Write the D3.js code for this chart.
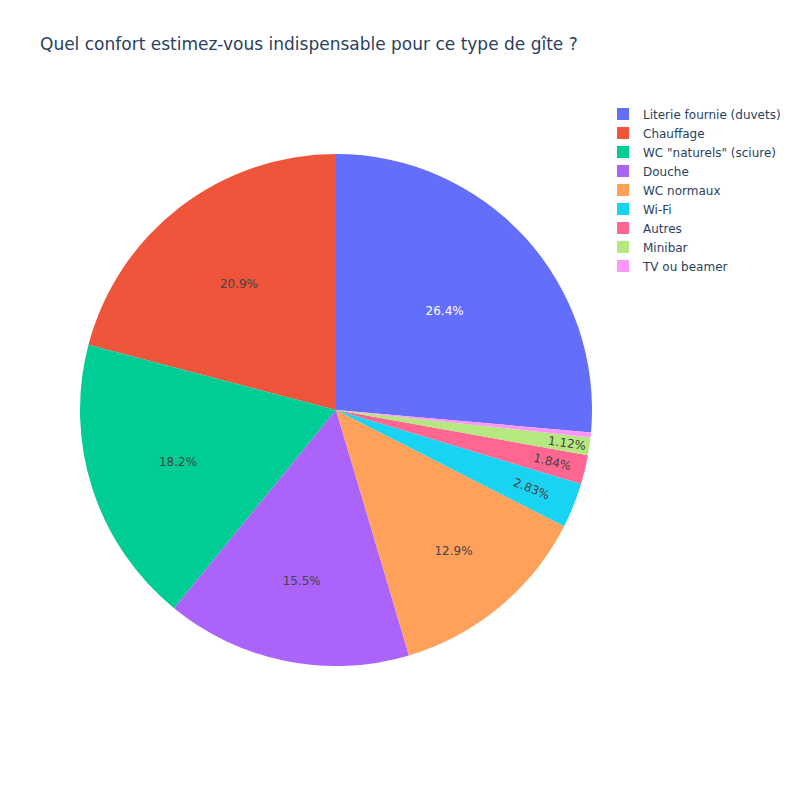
<!DOCTYPE html>
<html>
<head>
<meta charset="utf-8">
<script src="https://cdn.jsdelivr.net/npm/d3@7"></script>
<style>
  html, body { margin: 0; padding: 0; background: #fff; }
  svg { display: block; font-family: "DejaVu Sans", Verdana, sans-serif; }
</style>
</head>
<body>
<svg id="chart" width="800" height="800"></svg>
<script>
// ---- data ----
const title = "Quel confort estimez-vous indispensable pour ce type de gîte ?";
const labels = ["Literie fournie (duvets)", "Chauffage", "WC \"naturels\" (sciure)", "Douche", "WC normaux", "Wi-Fi", "Autres", "Minibar", "TV ou beamer"];
const values = [26.4, 20.9, 18.2, 15.5, 12.9, 2.83, 1.84, 1.12, 0.31];
const colors = ["#636efa", "#EF553B", "#00cc96", "#ab63fa", "#FFA15A", "#19d3f3", "#FF6692", "#B6E880", "#FF97FF"];

// ---- layout ----
const W = 800, H = 800;
const plot = { left: 80, top: 100, width: 512, height: 620 };
const cx = plot.left + plot.width / 2, cy = plot.top + plot.height / 2;
const R = Math.min(plot.width, plot.height) / 2;
const fontSize = 12;
const textPad = 3;
const minTextScale = 0.5;

const svg = d3.select("#chart");
svg.append("rect").attr("width", W).attr("height", H).attr("fill", "#fff");

// title
svg.append("text")
  .attr("x", 40).attr("y", 50)
  .attr("font-size", 17).attr("fill", "#2a3f5f")
  .text(title);

const total = d3.sum(values);
const first = values[0] / total * 2 * Math.PI;
const pie = d3.pie().sort(null).value(d => d).startAngle(first).endAngle(first - 2 * Math.PI);
const arcs = pie(values);
const arc = d3.arc().innerRadius(0).outerRadius(R);

const g = svg.append("g").attr("transform", `translate(${cx},${cy})`);
g.selectAll("path.slice").data(arcs).join("path")
  .attr("class", "slice")
  .attr("d", arc)
  .attr("fill", (d, i) => colors[i]);

function textColor(c) {
  const rgb = d3.rgb(c);
  const b = (rgb.r * 299 + rgb.g * 587 + rgb.b * 114) / 1000;
  return b >= 128 ? "#444" : "#ffffff";
}
function calcMaxHalfSize(a, half, r, ring) {
  const q = a + 1 / (2 * Math.tan(half));
  return r * Math.min(1 / (Math.sqrt(q * q + 0.5) + q), ring / (Math.sqrt(a * a + ring / 2) + a));
}
const calcRCenter = (a, b) => Math.cos(b) - a * b;
const calcRotate = deg => ((deg + 720) % 180) - 90;

const fmt = d3.format(".3r");
const labelG = svg.append("g");
arcs.forEach((d, i) => {
  const pct = d.value / total * 100;
  const t = labelG.append("text")
    .attr("font-size", fontSize)
    .attr("fill", textColor(colors[i]))
    .attr("text-anchor", "middle")
    .attr("dy", "0.35em")
    .text(fmt(pct) + "%");
  const w = t.node().getComputedTextLength() * 1.05;
  const h = fontSize * 1.1;
  const half = Math.abs(d.endAngle - d.startAngle) / 2;
  const mid = (d.startAngle + d.endAngle) / 2;
  const midDeg = mid * 180 / Math.PI;
  const rInscribed = Math.min(1 / (1 + 1 / Math.sin(half)), 0.5);
  const diag = Math.sqrt(w * w + h * h);
  let best = { scale: rInscribed * R * 2 / diag, rCenter: 1 - rInscribed, rotate: 0 };
  if (best.scale < 1) {
    const rr = Math.max(0, R - 2 * textPad);
    const aR = w / h;
    const sR = calcMaxHalfSize(aR, half, rr, 1);
    const rad = { scale: sR * 2 / h, rCenter: calcRCenter(aR, sR / rr), rotate: calcRotate(midDeg) };
    const aT = h / w;
    const sT = calcMaxHalfSize(aT, half, rr, 1);
    const tan = { scale: sT * 2 / w, rCenter: calcRCenter(aT, sT / rr), rotate: calcRotate(midDeg + 90) };
    [rad, tan].forEach(c => { if (c.scale > best.scale) best = c; });
  }
  if (best.scale < minTextScale) { t.remove(); return; }
  const s = Math.min(1, best.scale);
  const x = cx + R * Math.sin(mid) * best.rCenter;
  const y = cy - R * Math.cos(mid) * best.rCenter;
  t.attr("transform", `translate(${x},${y}) rotate(${best.rotate}) scale(${s})`);
});

// legend
const legend = svg.append("g").attr("transform", "translate(623,114)");
const items = legend.selectAll("g").data(labels).join("g")
  .attr("transform", (d, i) => `translate(0,${i * 19})`);
items.append("rect")
  .attr("x", -6).attr("y", -6).attr("width", 12).attr("height", 12)
  .attr("fill", (d, i) => colors[i]);
items.append("text")
  .attr("x", 20).attr("y", 4.5)
  .attr("font-size", 12).attr("fill", "#2a3f5f")
  .text(d => d);
</script>
</body>
</html>
